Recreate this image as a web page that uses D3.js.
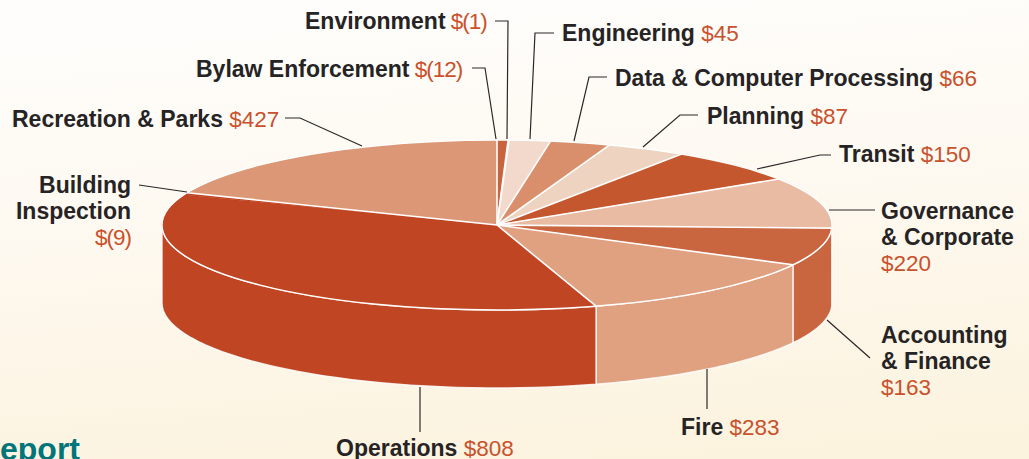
<!DOCTYPE html>
<html><head><meta charset="utf-8">
<script src="https://cdn.jsdelivr.net/npm/d3@7"></script>
<style>html,body{margin:0;padding:0;overflow:hidden}svg{display:block}
text{font-family:"Liberation Sans",Arial,sans-serif;font-size:23px}
.n{font-weight:700;fill:#262324}.v{fill:#c9512c;font-size:22.5px}</style></head><body>
<script>
const categories=["Bylaw Enforcement","Environment","Engineering","Data & Computer Processing","Planning","Transit","Governance & Corporate","Accounting & Finance","Fire","Operations","Building Inspection","Recreation & Parks"];
const values=[12,1,45,66,87,150,220,163,283,808,9,427];
const valueLabels=["$(12)","$(1)","$45","$66","$87","$150","$220","$163","$283","$808","$(9)","$427"];
const colors=["#c8653f","#c8653f","#f3d9cb","#d98f6b","#efd3c1","#c4572e","#e9bba3","#c96640","#e0a181","#bf4523","#bf4523","#dc9876"];
// label layout: text lines with anchor, leader polyline
const labelLayout=[
 {x:196,y:76.7,lines:[[0," "]],leader:[[472,68],[485,68],[496,139]]},
 {x:305,y:28.7,lines:[[0," "]],leader:[[495,21],[508,21],[507,139]]},
 {x:562,y:40.7,lines:[[0," "]],leader:[[554,33],[535,33],[530,139]]},
 {x:615,y:85.7,lines:[[0," "]],leader:[[607,77],[589,77],[574,141]]},
 {x:707,y:123.7,lines:[[0," "]],leader:[[698,115],[680,115],[643,147]]},
 {x:839,y:161.7,lines:[[0," "]],leader:[[831,155],[820,155],[757,169]]},
 {x:881,y:218.7,lines:[["Governance",null],["& Corporate",null],[null,""]],leader:[[875,210],[829,210]]},
 {x:881,y:342.7,lines:[["Accounting",null],["& Finance",null],[null,""]],leader:[[870,358],[827,320]]},
 {x:681,y:434.7,lines:[[0," "]],leader:[[707,369],[707,409]]},
 {x:336,y:456,lines:[[0," "]],leader:[[420,387],[420,432]]},
 {x:131,y:192.7,anchor:"end",lines:[["Building",null],["Inspection",null],[null,""]],leader:[[139,185],[187,192]]},
 {x:12,y:126.7,lines:[[0," "]],leader:[[285,118],[300,118],[362,146]]}
];
const W=1029,H=459,cx=497,cy=225,rx=335,ry=85,depth=78;
const svg=d3.select("body").append("svg").attr("width",W).attr("height",H);
const g=svg.append("defs").append("linearGradient").attr("id","bg").attr("x1",0.42).attr("y1",0).attr("x2",0.58).attr("y2",1);
g.append("stop").attr("offset","0%").attr("stop-color","#fefdfb");
g.append("stop").attr("offset","45%").attr("stop-color","#fef9f0");
g.append("stop").attr("offset","100%").attr("stop-color","#fcf3df");
svg.append("rect").attr("width",W).attr("height",H).attr("fill","url(#bg)");

const pie=d3.pie().sort(null).value(d=>d).startAngle(0).endAngle(2*Math.PI);
const arcs=pie(values);
const px=d3.scaleLinear().domain([-1,1]).range([cx-rx,cx+rx]);
const py=d3.scaleLinear().domain([-1,1]).range([cy-ry,cy+ry]);
const P=a=>[px(Math.sin(a)),py(-Math.cos(a))];

// side wall
const wallPath=d=>{
  const a0=Math.max(d.startAngle,Math.PI/2),a1=Math.min(d.endAngle,3*Math.PI/2);
  if(a1<=a0) return null;
  const rim=d3.range(0,41).map(i=>P(a0+(a1-a0)*i/40));
  const bot=rim.slice().reverse().map(p=>[p[0],p[1]+depth]);
  return d3.line()(rim.concat(bot))+"Z";
};
svg.append("g").selectAll("path").data(arcs).join("path")
 .attr("d",wallPath).attr("fill",(d,i)=>colors[i]).attr("stroke","#fff").attr("stroke-opacity",.85).attr("stroke-width",1.4).attr("stroke-linejoin","round");

// top face
const arc=d3.arc().innerRadius(0).outerRadius(rx);
const face=svg.append("g").attr("transform",`translate(${cx},${cy}) scale(1,${ry/rx})`);
face.selectAll("path").data(arcs).join("path")
 .attr("d",arc).attr("fill",(d,i)=>colors[i]).attr("stroke",(d,i)=>colors[i]).attr("stroke-width",.4).attr("vector-effect","non-scaling-stroke");
// separators between slices (Operations and Building read as one wedge)
svg.append("g").selectAll("line").data(arcs.filter((d,i)=>i!==9)).join("line")
 .attr("x1",cx).attr("y1",cy).attr("x2",d=>P(d.endAngle)[0]).attr("y2",d=>P(d.endAngle)[1])
 .attr("stroke","#fff").attr("stroke-width",1.6);
svg.append("ellipse").attr("cx",cx).attr("cy",cy).attr("rx",rx).attr("ry",ry).attr("fill","none").attr("stroke","#fff").attr("stroke-width",1.4);

// leaders
svg.append("g").selectAll("path").data(labelLayout).join("path")
 .attr("d",d=>d3.line()(d.leader)).attr("fill","none").attr("stroke","#2b2728").attr("stroke-width",1.2);

// labels
const lab=svg.append("g").selectAll("g").data(labelLayout).join("g");
lab.each(function(d,idx){
  const sel=d3.select(this);
  d.lines.forEach((ln,i)=>{
    const t=sel.append("text").attr("x",d.x).attr("y",d.y+i*26).attr("text-anchor",d.anchor||"start").style("white-space","pre");
    if(ln[0]===0) t.append("tspan").attr("class","n").text(categories[idx]);
    else if(ln[0]) t.append("tspan").attr("class","n").text(ln[0]);
    if(ln[1]!==null){
      const v=t.append("tspan").attr("class","v").text(ln[1]+valueLabels[idx]);
      if(valueLabels[idx].includes("(")) v.style("letter-spacing","-1px");
    }
  });
});
svg.append("text").attr("x",0).attr("y",460).attr("fill","#00757a").style("font-weight",700).style("font-size","32px").text("eport");
</script></body></html>
